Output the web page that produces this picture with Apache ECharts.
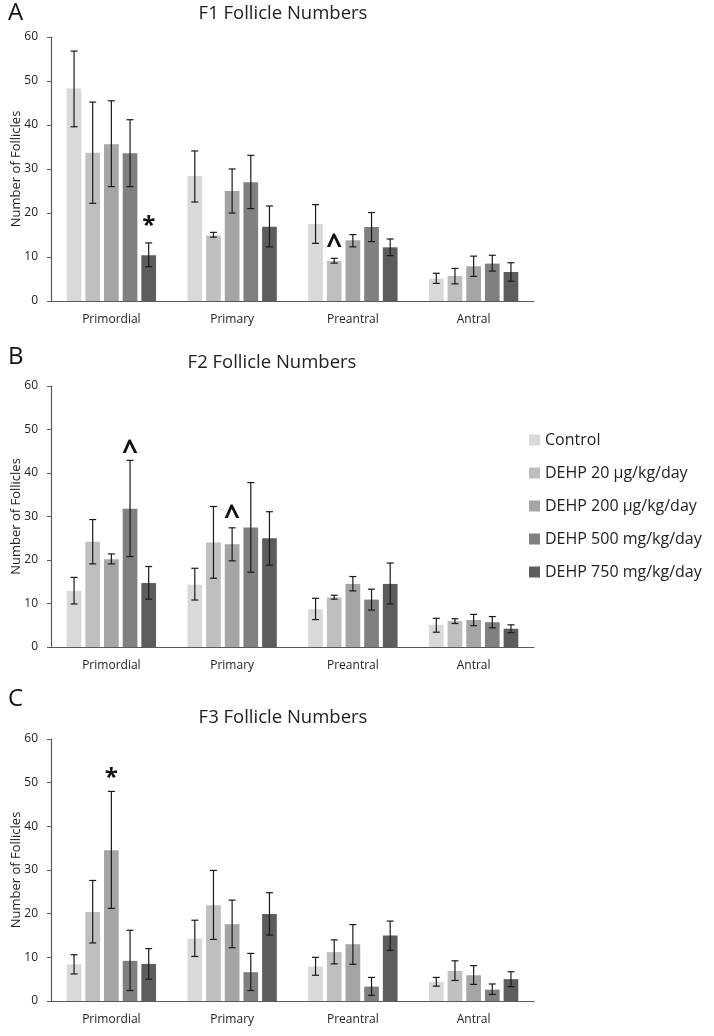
<!DOCTYPE html>
<html>
<head>
<meta charset="utf-8">
<script src="https://cdn.jsdelivr.net/npm/echarts@6/dist/echarts.min.js"></script>
<style>
html,body{margin:0;padding:0;background:#fff;}
#chart{width:714px;height:1036px;}
</style>
</head>
<body>
<div id="chart"></div>
<script>
const categories = ['Primordial', 'Primary', 'Preantral', 'Antral'];
const groups = ['Control', 'DEHP 20 μg/kg/day', 'DEHP 200 μg/kg/day', 'DEHP 500 mg/kg/day', 'DEHP 750 mg/kg/day'];
const yTicks = [0, 10, 20, 30, 40, 50, 60];
const panelTitles = ['F1 Follicle Numbers', 'F2 Follicle Numbers', 'F3 Follicle Numbers'];
const panelLetters = ['A', 'B', 'C'];

// rows = groups, columns = categories
const f1Mean = [
  [48.3, 28.4, 17.5, 5.1],
  [33.7, 14.9, 9.1, 5.7],
  [35.6, 25.0, 13.8, 7.9],
  [33.6, 27.0, 16.8, 8.5],
  [10.4, 16.9, 12.2, 6.6]
];
const f1Low = [
  [39.6, 22.5, 13.1, 4.0],
  [22.2, 14.5, 8.6, 3.9],
  [26.0, 20.0, 12.3, 5.6],
  [26.0, 21.0, 13.5, 6.8],
  [7.8, 12.3, 10.3, 4.5]
];
const f1High = [
  [56.8, 34.1, 21.9, 6.3],
  [45.2, 15.6, 9.7, 7.4],
  [45.5, 30.0, 15.1, 10.2],
  [41.2, 33.1, 20.1, 10.4],
  [13.2, 21.6, 14.1, 8.7]
];

const f2Mean = [
  [12.9, 14.3, 8.7, 5.1],
  [24.2, 24.0, 11.4, 6.0],
  [20.2, 23.6, 14.5, 6.2],
  [31.8, 27.5, 10.9, 5.7],
  [14.7, 25.0, 14.5, 4.2]
];
const f2Low = [
  [9.9, 10.8, 6.3, 3.4],
  [19.1, 15.8, 11.0, 5.4],
  [19.1, 19.8, 12.9, 4.9],
  [20.8, 17.2, 8.5, 4.4],
  [11.0, 18.8, 9.9, 3.3]
];
const f2High = [
  [16.0, 18.1, 11.2, 6.6],
  [29.3, 32.3, 11.9, 6.5],
  [21.4, 27.4, 16.2, 7.5],
  [42.9, 37.8, 13.3, 7.0],
  [18.5, 31.1, 19.3, 5.1]
];

const f3Mean = [
  [8.4, 14.3, 7.9, 4.4],
  [20.4, 21.9, 11.2, 6.9],
  [34.5, 17.6, 13.0, 5.9],
  [9.2, 6.6, 3.3, 2.6],
  [8.5, 19.9, 15.0, 5.0]
];
const f3Low = [
  [6.2, 10.2, 5.9, 3.4],
  [13.3, 14.1, 8.5, 4.7],
  [21.2, 12.2, 8.4, 3.8],
  [2.4, 2.4, 1.3, 1.5],
  [5.0, 15.1, 11.6, 3.3]
];
const f3High = [
  [10.6, 18.5, 10.0, 5.4],
  [27.6, 29.9, 14.0, 9.2],
  [48.0, 23.1, 17.5, 8.1],
  [16.2, 10.9, 5.4, 3.9],
  [12.0, 24.8, 18.3, 6.7]
];

// significance marks: [categoryIndex, groupIndex, value, text]
const f1Marks = [[0, 4, 17.6, '*'], [2, 1, 13.0, '^']];
const f2Marks = [[0, 3, 45.4, '^'], [1, 2, 30.5, '^']];
const f3Marks = [[0, 2, 51.8, '*']];

const panels = [
  {mean: f1Mean, low: f1Low, high: f1High, marks: f1Marks},
  {mean: f2Mean, low: f2Low, high: f2High, marks: f2Marks},
  {mean: f3Mean, low: f3Low, high: f3High, marks: f3Marks}
];

const colors = ['#d9d9d9', '#bfbfbf', '#a5a5a5', '#808080', '#5d5d5d'];
const FONT = 'Open Sans';
const CAT_GAP = 0.26, BAR_GAP = 0.27;

const grids = [
  {left: 51, width: 483, top: 37, height: 264, outerBoundsMode: 'none', containLabel: false},
  {left: 51, width: 483, top: 386, height: 261, outerBoundsMode: 'none', containLabel: false},
  {left: 51, width: 483, top: 739, height: 262, outerBoundsMode: 'none', containLabel: false}
];
const titleTops = [-1, 348, 703];
const letterTops = [-4, 340, 682];
const titleCenters = [278, 267, 278];

function barX(api, cat, gi) {
  const c = api.coord([cat, 0])[0];
  const band = api.size([1, 0])[0];
  const usable = band * (1 - CAT_GAP);
  const n = groups.length;
  const bw = usable / (n + (n - 1) * BAR_GAP);
  return {x: c - usable / 2 + bw / 2 + gi * bw * (1 + BAR_GAP), bw: bw};
}

const series = [];
const xAxes = [], yAxes = [], titles = [];
panels.forEach((p, pi) => {
  xAxes.push({
    gridIndex: pi, type: 'category', data: categories,
    axisLine: {lineStyle: {color: '#5a5a5a', width: 1.2}},
    axisTick: {show: false},
    axisLabel: {color: '#222', fontFamily: FONT, fontSize: 12, margin: 13}
  });
  yAxes.push({
    gridIndex: pi, type: 'value', min: yTicks[0], max: yTicks[yTicks.length - 1], interval: yTicks[1] - yTicks[0],
    name: 'Number of Follicles', nameLocation: 'middle', nameGap: 28, nameMoveOverlap: false,
    nameTextStyle: {color: '#222', fontFamily: FONT, fontSize: 13},
    axisLine: {show: true, lineStyle: {color: '#5a5a5a', width: 1.2}},
    axisTick: {show: true, length: 4, lineStyle: {color: '#5a5a5a'}},
    axisLabel: {color: '#222', fontFamily: FONT, fontSize: 12, margin: 13},
    splitLine: {show: false}
  });
  titles.push({
    text: panelTitles[pi], left: titleCenters[pi], top: titleTops[pi], textAlign: 'center',
    textStyle: {fontFamily: FONT, fontSize: 18.5, fontWeight: 'normal', color: '#222'}
  });
  titles.push({
    text: panelLetters[pi], left: 3, top: letterTops[pi],
    textStyle: {fontFamily: FONT, fontSize: 24, fontWeight: 'normal', color: '#111'}
  });
  groups.forEach((g, gi) => {
    series.push({
      type: 'bar', name: g, xAxisIndex: pi, yAxisIndex: pi,
      data: p.mean[gi], itemStyle: {color: colors[gi]},
      barCategoryGap: (CAT_GAP * 100) + '%', barGap: (BAR_GAP * 100) + '%',
      animation: false
    });
  });
  const errData = [];
  groups.forEach((g, gi) => {
    categories.forEach((c, ci) => {
      errData.push([ci, p.low[gi][ci], p.high[gi][ci], gi]);
    });
  });
  series.push({
    type: 'custom', xAxisIndex: pi, yAxisIndex: pi, data: errData, z: 10, animation: false,
    renderItem: function (params, api) {
      const cat = api.value(0), gi = api.value(3);
      const pos = barX(api, cat, gi);
      const yl = api.coord([cat, api.value(1)])[1];
      const yh = api.coord([cat, api.value(2)])[1];
      const cw = 3.5;
      const st = {stroke: '#1a1a1a', lineWidth: 1.2};
      return {type: 'group', children: [
        {type: 'line', shape: {x1: pos.x, y1: yl, x2: pos.x, y2: yh}, style: st},
        {type: 'line', shape: {x1: pos.x - cw, y1: yl, x2: pos.x + cw, y2: yl}, style: st},
        {type: 'line', shape: {x1: pos.x - cw, y1: yh, x2: pos.x + cw, y2: yh}, style: st}
      ]};
    }
  });
  series.push({
    type: 'custom', xAxisIndex: pi, yAxisIndex: pi, data: p.marks, z: 11, animation: false,
    renderItem: function (params, api) {
      const cat = api.value(0), gi = api.value(1);
      const pos = barX(api, cat, gi);
      const y = api.coord([cat, api.value(2)])[1];
      const txt = p.marks[params.dataIndex][3];
      const isStar = txt === '*';
      const fs = isStar ? 24 : 28;
      return {type: 'text', style: {
        text: txt, x: pos.x, y: y + (isStar ? 3 : 2.5), align: 'center', verticalAlign: 'middle',
        font: 'bold ' + fs + 'px "' + FONT + '"', fill: '#111'
      }};
    }
  });
});

const chart = echarts.init(document.getElementById('chart'), null, {renderer: 'canvas'});
chart.setOption({
  backgroundColor: '#fff',
  animation: false,
  title: titles,
  legend: {
    data: groups, orient: 'vertical', left: 524, top: 426,
    icon: 'rect', itemWidth: 11, itemHeight: 11, itemGap: 15,
    textStyle: {fontFamily: FONT, fontSize: 16, color: '#222', lineHeight: 18},
    selectedMode: false
  },
  grid: grids,
  xAxis: xAxes,
  yAxis: yAxes,
  series: series
});
</script>
</body>
</html>
